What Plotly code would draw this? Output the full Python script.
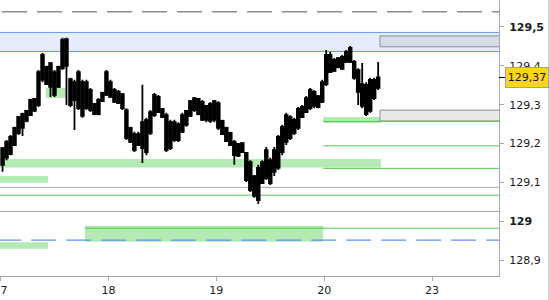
import plotly.graph_objects as go

# ---------------- data ----------------
BARS_PER_DAY = 27
day_ticks = [0, 1, 2, 3, 4]
day_labels = ["17", "18", "19", "20", "23"]

opens = [129.145, 129.163, 129.173, 129.196, 129.227, 129.240, 129.258, 129.273, 129.284, 129.299,
         129.364, 129.397, 129.346, 129.384, 129.346, 129.394, 129.469, 129.366, 129.312, 129.291,
         129.358, 129.291, 129.338, 129.302, 129.276, 129.309, 129.325, 129.358, 129.338, 129.304,
         129.327, 129.286, 129.240, 129.224, 129.196, 129.188, 129.261, 129.227, 129.273, 129.320,
         129.289, 129.273, 129.188, 129.255, 129.209, 129.230, 129.248, 129.271, 129.286, 129.315,
         129.307, 129.261, 129.302, 129.261, 129.304, 129.258, 129.240, 129.227, 129.204, 129.168,
         129.201, 129.176, 129.152, 129.116, 129.054, 129.098, 129.183, 129.098, 129.127, 129.137,
         129.178, 129.204, 129.268, 129.227, 129.240, 129.294, 129.281, 129.291, 129.333, 129.294,
         129.307, 129.353, 129.428, 129.387, 129.420, 129.392, 129.410, 129.446, 129.410, 129.389,
         129.353, 129.351, 129.284, 129.317, 129.343]
highs = [129.191, 129.209, 129.222, 129.243, 129.271, 129.279, 129.286, 129.315, 129.317, 129.389,
         129.433, 129.400, 129.410, 129.389, 129.400, 129.472, 129.472, 129.369, 129.364, 129.389,
         129.364, 129.364, 129.343, 129.304, 129.317, 129.333, 129.389, 129.364, 129.343, 129.338,
         129.330, 129.291, 129.243, 129.230, 129.230, 129.351, 129.266, 129.286, 129.330, 129.325,
         129.291, 129.279, 129.261, 129.261, 129.255, 129.279, 129.286, 129.312, 129.320, 129.317,
         129.312, 129.299, 129.307, 129.312, 129.309, 129.261, 129.243, 129.230, 129.209, 129.201,
         129.204, 129.178, 129.157, 129.119, 129.145, 129.157, 129.191, 129.163, 129.191, 129.222,
         129.248, 129.279, 129.273, 129.266, 129.294, 129.299, 129.322, 129.343, 129.338, 129.325,
         129.364, 129.441, 129.436, 129.420, 129.423, 129.428, 129.441, 129.451, 129.415, 129.394,
         129.407, 129.358, 129.369, 129.369, 129.410]
lows = [129.127, 129.157, 129.170, 129.194, 129.222, 129.219, 129.255, 129.271, 129.281, 129.294,
        129.358, 129.351, 129.320, 129.320, 129.343, 129.389, 129.299, 129.294, 129.235, 129.286,
        129.266, 129.286, 129.281, 129.273, 129.273, 129.307, 129.322, 129.317, 129.304, 129.302,
        129.286, 129.209, 129.201, 129.178, 129.194, 129.150, 129.170, 129.222, 129.268, 129.279,
        129.266, 129.178, 129.183, 129.204, 129.204, 129.227, 129.243, 129.268, 129.281, 129.273,
        129.258, 129.255, 129.253, 129.255, 129.235, 129.222, 129.204, 129.194, 129.145, 129.165,
        129.176, 129.101, 129.075, 129.060, 129.044, 129.096, 129.106, 129.093, 129.116, 129.132,
        129.170, 129.196, 129.209, 129.222, 129.235, 129.266, 129.279, 129.286, 129.291, 129.291,
        129.304, 129.348, 129.382, 129.384, 129.394, 129.389, 129.407, 129.407, 129.364, 129.299,
        129.291, 129.271, 129.279, 129.312, 129.338]
closes = [129.188, 129.204, 129.217, 129.240, 129.268, 129.276, 129.284, 129.312, 129.315, 129.384,
          129.428, 129.353, 129.407, 129.325, 129.397, 129.467, 129.400, 129.299, 129.358, 129.384,
          129.271, 129.358, 129.286, 129.276, 129.312, 129.330, 129.384, 129.320, 129.307, 129.333,
          129.291, 129.214, 129.204, 129.183, 129.224, 129.255, 129.178, 129.281, 129.325, 129.281,
          129.268, 129.183, 129.255, 129.209, 129.250, 129.273, 129.284, 129.309, 129.317, 129.276,
          129.261, 129.297, 129.258, 129.309, 129.240, 129.224, 129.206, 129.196, 129.170, 129.199,
          129.178, 129.106, 129.080, 129.065, 129.137, 129.152, 129.111, 129.157, 129.183, 129.217,
          129.243, 129.273, 129.214, 129.261, 129.289, 129.268, 129.317, 129.338, 129.297, 129.322,
          129.358, 129.428, 129.384, 129.415, 129.397, 129.423, 129.436, 129.410, 129.369, 129.333,
          129.297, 129.276, 129.364, 129.364, 129.370]

price_ticks = [128.9, 129.0, 129.1, 129.2, 129.3, 129.4, 129.5]
price_labels = ["128,9", "<b>129</b>", "129,1", "129,2", "129,3", "129,4", "<b>129,5</b>"]
last_price = 129.37
last_label = "129,37"

# levels
dashed_top_level = 129.539
dashed_blue_level = 128.951
blue_band = [129.437, 129.486]
gray_levels = [129.087, 129.025]
green_full_levels = [129.067]
green_day20_levels = [129.257, 129.194, 129.136]
green_long_level = 128.982
green_long_start = 0.783
day20_start = 2.99
session_end = 3.526
# green zones: [x0, x1, y0, y1] in days / prices
green_zones = [
    [-0.1, 3.526, 129.138, 129.160],
    [-0.1, 0.44, 129.099, 129.116],
    [-0.1, 0.44, 128.929, 128.946],
    [0.42, 0.616, 129.317, 129.343],
    [0.783, 2.99, 128.947, 128.988],
    [2.99, 3.526, 129.253, 129.268],
]
gray_boxes = [
    [3.517, 129.449, 129.477, "#d5dce8"],
    [3.517, 129.258, 129.286, "#e8e8e8"],
]

X_MIN, X_MAX = -0.005, 4.62
Y_MIN, Y_MAX = 128.8588, 129.5695

# ---------------- figure ----------------
x = [(i + 0.5) / BARS_PER_DAY for i in range(len(opens))]

fig = go.Figure()
fig.add_trace(go.Candlestick(
    x=x, open=opens, high=highs, low=lows, close=closes,
    increasing=dict(line=dict(color="black", width=1.8), fillcolor="black"),
    decreasing=dict(line=dict(color="black", width=1.8), fillcolor="black"),
    whiskerwidth=0, showlegend=False, hoverinfo="skip",
))

shapes = []
FAR = 6
# blue band
shapes.append(dict(type="rect", xref="x", yref="y", x0=-1, x1=FAR, y0=blue_band[0], y1=blue_band[1],
                   fillcolor="#e6ecfd", line=dict(width=0), layer="below"))
for lv in blue_band:
    shapes.append(dict(type="line", xref="x", yref="y", x0=-1, x1=FAR, y0=lv, y1=lv,
                       line=dict(color="#6a96ee", width=1), layer="below"))
# green zones
for z in green_zones:
    shapes.append(dict(type="rect", xref="x", yref="y", x0=z[0], x1=z[1], y0=z[2], y1=z[3],
                       fillcolor="#b4eab4", line=dict(width=0), layer="below"))
# gray boxes
for b in gray_boxes:
    shapes.append(dict(type="rect", xref="x", yref="y", x0=b[0], x1=FAR, y0=b[1], y1=b[2],
                       fillcolor=b[3], line=dict(color="#8c8c8c", width=1), layer="below"))
# dashed
shapes.append(dict(type="line", xref="x", yref="y", x0=0.014, x1=FAR, y0=dashed_top_level, y1=dashed_top_level,
                   line=dict(color="#8c8c8c", width=1.5, dash="25px,10px"), layer="below"))
shapes.append(dict(type="line", xref="x", yref="y", x0=-0.04, x1=FAR, y0=dashed_blue_level, y1=dashed_blue_level,
                   line=dict(color="#5f92f3", width=1.2, dash="25px,10px"), layer="below"))
for lv in gray_levels:
    shapes.append(dict(type="line", xref="x", yref="y", x0=-1, x1=FAR, y0=lv, y1=lv,
                       line=dict(color="#a8a8a8", width=1), layer="below"))
for lv in green_full_levels:
    shapes.append(dict(type="line", xref="x", yref="y", x0=-1, x1=FAR, y0=lv, y1=lv,
                       line=dict(color="#4ccc4c", width=1), layer="below"))
for lv in green_day20_levels:
    shapes.append(dict(type="line", xref="x", yref="y", x0=day20_start, x1=FAR, y0=lv, y1=lv,
                       line=dict(color="#4ccc4c", width=1), layer="below"))
shapes.append(dict(type="line", xref="x", yref="y", x0=green_long_start, x1=FAR,
                   y0=green_long_level, y1=green_long_level,
                   line=dict(color="#4ccc4c", width=1), layer="below"))
# last-price marker tick and outer border
shapes.append(dict(type="line", xref="paper", yref="y", x0=1.0, x1=1.012, y0=last_price, y1=last_price,
                   line=dict(color="black", width=1)))
shapes.append(dict(type="line", xref="paper", yref="paper", x0=1.1002, x1=1.1002, y0=-0.2, y1=1.05,
                   line=dict(color="#a8a8a8", width=1)))

fig.update_layout(
    width=550, height=300, autosize=False,
    margin=dict(l=0, r=51, t=0, b=24, pad=0),
    paper_bgcolor="white", plot_bgcolor="white",
    font=dict(family="DejaVu Sans", size=11, color="#1a1a1a"),
    shapes=shapes, showlegend=False, boxgap=0.05,
    xaxis=dict(range=[X_MIN, X_MAX], tickmode="array", tickvals=day_ticks, ticktext=day_labels,
               showgrid=False, zeroline=False, showline=True, linecolor="#a8a8a8", linewidth=1,
               ticks="outside", ticklen=4, tickcolor="#a8a8a8", ticklabeloverflow="allow",
               automargin=False, rangeslider=dict(visible=False), fixedrange=True),
    yaxis=dict(range=[Y_MIN, Y_MAX], side="right", tickmode="array", tickvals=price_ticks,
               ticktext=price_labels, showgrid=False, zeroline=False, showline=True,
               linecolor="#a8a8a8", linewidth=1, ticks="outside", ticklen=4, tickcolor="#a8a8a8",
               ticklabelstandoff=3, automargin=False, fixedrange=True),
    annotations=[dict(xref="paper", yref="y", x=1.012, y=last_price, xanchor="left", yanchor="middle",
                      text=last_label, showarrow=False, bgcolor="#ffd41c", bordercolor="#a0a0a0",
                      borderwidth=1, borderpad=1, width=40, height=17,
                      font=dict(family="DejaVu Sans", size=11, color="#111111"))],
)

fig.write_html("out.html")
